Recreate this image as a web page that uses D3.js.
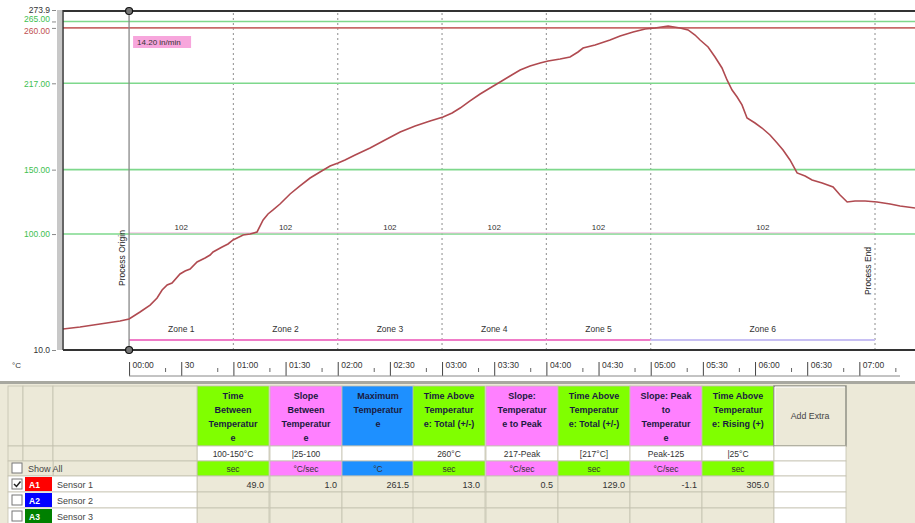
<!DOCTYPE html>
<html><head><meta charset="utf-8">
<script src="https://cdn.jsdelivr.net/npm/d3@7"></script>
<style>
body{margin:0;background:#fff;}
svg{display:block;font-family:"Liberation Sans",Arial,sans-serif;}
</style>
</head><body>
<svg id="c" width="915" height="523"></svg>
<script>
// ---------- DATA ----------
const timeSec = [-38,-28.2,-16.7,-5.2,0,6.3,12.1,16.1,19,21.9,24.7,29.3,32.2,35.1,39.1,43.7,46.6,48.3,53.5,56.9,59.8,65.6,69.6,73.6,77.1,79.9,82.8,86.8,92.6,98.3,104.1,109.8,115.6,120.2,124.2,130,138.6,147.2,155.9,164.5,173.1,180.6,185.8,190.4,196.1,201.9,207.6,213.4,219.1,224.9,230.6,236.4,241,247.9,253.6,258.2,261.1,268,276.6,282.4,289.9,296.8,302.5,310,316.9,321.5,325.5,328.4,333,337,341,343.9,346.8,349.7,352.5,355.4,360,364,368.6,372.7,376.1,380.1,384.2,388.8,392.8,398.6,404.9,408.9,413,417.5,423.3,430.2,437.7,443.4,452];
const tempC = [26.3,27.9,30.2,32.5,34.1,39.5,44.9,50.4,56.6,60.5,62,69,71.3,72.9,78.3,81.4,83.7,86.1,89.9,92.3,95.4,99.3,100,101.6,110.9,115.6,118.7,123.3,131.1,137.3,143.5,148.2,152.8,155.2,157.5,161.4,166.8,173,179.2,183.9,187.7,190.9,194,197.8,203.3,208.7,213.4,218,222.7,227.3,230.4,232.8,234.3,235.9,237.4,241.3,244.4,246.7,250.6,253.7,256.8,259.2,259.9,261.5,259.9,258.4,254.5,250.6,245.2,237.4,228.9,219.6,211.8,206.4,200.2,190.1,186.2,182.3,176.9,170.7,165.2,157.5,147.4,145.1,142,139.6,136.5,130.3,124.9,125.7,125.7,124.9,123.3,121.8,120.2];

const zoneStarts = [0,60,120,180,240,300];
const zoneEnds   = [60,120,180,240,300,429];
const zoneNames  = ["Zone 1","Zone 2","Zone 3","Zone 4","Zone 5","Zone 6"];
const zoneSpeeds = ["102","102","102","102","102","102"];
const processOrigin = 0, processEnd = 429;
const conveyorSpeed = "14.20 in/min";

const yTickValues = [10,100,150,217,260,265,273.9];
const yTickLabels = ["10.0","100.00","150.00","217.00","260.00","265.00","273.9"];
const limitLines  = [100,150,217,265];
const peakLine    = 260;

const xTickValues = [0,30,60,90,120,150,180,210,240,270,300,330,360,390,420];
const xTickLabels = ["00:00","30","01:00","01:30","02:00","02:30","03:00","03:30","04:00","04:30","05:00","05:30","06:00","06:30","07:00"];

const colHeaders = [
  ["Time","Between","Temperatur","e"],
  ["Slope","Between","Temperatur","e"],
  ["Maximum","Temperatur","e"],
  ["Time Above","Temperatur","e: Total (+/-)"],
  ["Slope:","Temperatur","e to Peak"],
  ["Time Above","Temperatur","e: Total (+/-)"],
  ["Slope: Peak","to","Temperatur","e"],
  ["Time Above","Temperatur","e: Rising (+)"]
];
const colKinds  = ["time","slope","max","time","slope","time","slope","time"];
const colParams = ["100-150\u00B0C","|25-100","","260\u00B0C","217-Peak","[217\u00B0C]","Peak-125","|25\u00B0C"];
const colUnits  = ["sec","\u00B0C/sec","\u00B0C","sec","\u00B0C/sec","sec","\u00B0C/sec","sec"];
const sensorNames  = ["Sensor 1","Sensor 2","Sensor 3"];
const sensorTags   = ["A1","A2","A3"];
const sensorValues = [[49.0,1.0,261.5,13.0,0.5,129.0,-1.1,305.0],[],[]];

// ---------- LAYOUT ----------
const svg = d3.select("#c");
const L = 63, R = 915, T = 10, B = 350;
const x = d3.scaleLinear().domain([-38,452]).range([L,R]);
const y = d3.scaleLinear().domain([10,273.9]).range([B,T]);
const kindColor = {time:"#80ff00", slope:"#ff80ff", max:"#1e90ff"};
const sensorColor = ["#ff0000","#0000ff","#008000"];

svg.append("rect").attr("width",915).attr("height",523).attr("fill","#fff");

// zone dotted separators
svg.selectAll(".sep").data(zoneEnds).enter().append("line")
  .attr("x1",d=>x(d)).attr("x2",d=>x(d)).attr("y1",T+3).attr("y2",B)
  .attr("stroke","#a0a0a0").attr("stroke-width",1.2).attr("stroke-dasharray","2,3");

// limit lines
svg.selectAll(".lim").data(limitLines).enter().append("line")
  .attr("x1",L).attr("x2",R).attr("y1",d=>y(d)).attr("y2",d=>y(d))
  .attr("stroke","#7ed88c").attr("stroke-width",1.6);
svg.append("line").attr("x1",x(processOrigin)).attr("x2",x(processEnd))
  .attr("y1",y(100)-1.2).attr("y2",y(100)-1.2).attr("stroke","#f0b0dc").attr("stroke-width",0.8);
svg.append("line").attr("x1",L).attr("x2",R).attr("y1",y(peakLine)).attr("y2",y(peakLine))
  .attr("stroke","#c86a6a").attr("stroke-width",1.6);

// zone bars
svg.selectAll(".zbar").data(zoneStarts).enter().append("line")
  .attr("x1",d=>x(d)).attr("x2",(d,i)=>x(zoneEnds[i])).attr("y1",340).attr("y2",340)
  .attr("stroke",(d,i)=>i<5?"#f07cc8":"#c8c0f4").attr("stroke-width",2);
svg.selectAll(".zname").data(zoneNames).enter().append("text")
  .attr("x",(d,i)=>x((zoneStarts[i]+zoneEnds[i])/2)).attr("y",332)
  .attr("text-anchor","middle").attr("font-size",8.5).attr("fill","#333").text(d=>d);
svg.selectAll(".zspd").data(zoneSpeeds).enter().append("text")
  .attr("x",(d,i)=>x((zoneStarts[i]+zoneEnds[i])/2)).attr("y",230)
  .attr("text-anchor","middle").attr("font-size",8).attr("fill","#333").text(d=>d);

// process origin line
svg.append("line").attr("x1",x(processOrigin)).attr("x2",x(processOrigin)).attr("y1",T+1).attr("y2",B)
  .attr("stroke","#888").attr("stroke-width",1.3);
svg.append("text").attr("transform",`translate(${x(processOrigin)-4},258) rotate(-90)`)
  .attr("text-anchor","middle").attr("font-size",8.5).attr("fill","#222").text("Process Origin");
svg.append("text").attr("transform",`translate(${x(processEnd)-4},271) rotate(-90)`)
  .attr("text-anchor","middle").attr("font-size",8.5).attr("fill","#222").text("Process End");

// curve
const line = d3.line().x(d=>x(d[0])).y(d=>y(d[1]));
svg.append("path").datum(timeSec.map((t,i)=>[t,tempC[i]]))
  .attr("d",line).attr("fill","none").attr("stroke","#b04a50").attr("stroke-width",1.6);

// speed tag
const tagX = x(processOrigin)+4;
svg.append("rect").attr("x",tagX).attr("y",36).attr("width",58).attr("height",12).attr("fill","#f7a6dc");
svg.append("text").attr("x",tagX+4).attr("y",45).attr("font-size",8).attr("fill","#333").text(conveyorSpeed);

// frame
svg.append("rect").attr("x",57).attr("y",T).attr("width",5).attr("height",B-T).attr("fill","#c8c8c8");
svg.append("line").attr("x1",L).attr("x2",L).attr("y1",T).attr("y2",B).attr("stroke","#333").attr("stroke-width",1.5);
svg.append("line").attr("x1",L).attr("x2",R).attr("y1",T+1).attr("y2",T+1).attr("stroke","#333").attr("stroke-width",2);
svg.append("line").attr("x1",L).attr("x2",R).attr("y1",B).attr("y2",B).attr("stroke","#333").attr("stroke-width",1.8);

// handles
[T+1,B].forEach(yy=>{
  svg.append("circle").attr("cx",x(processOrigin)).attr("cy",yy).attr("r",3.5)
    .attr("fill","#777").attr("stroke","#111").attr("stroke-width",1.2);
});

// y axis
const yAxis = d3.axisLeft(y).tickValues(yTickValues).tickSize(4).tickPadding(2)
  .tickFormat((d,i)=>yTickLabels[i]);
const gy = svg.append("g").attr("transform","translate(56,0)").call(yAxis);
gy.select(".domain").remove();
gy.selectAll(".tick line").attr("stroke","#888");
gy.selectAll(".tick text").attr("font-size",8.5)
  .attr("font-family","Liberation Sans, Arial, sans-serif")
  .attr("dy",d=>d===265?"-0.05em":d===260?"0.62em":"0.32em")
  .attr("fill",d=>d===260?"#c05050":(d===10||d===273.9)?"#333":"#40c050");
svg.append("text").attr("x",12).attr("y",368).attr("font-size",8).attr("fill","#333").text("\u00B0C");

// x axis labels
const xAxis = d3.axisBottom(x).tickValues(xTickValues).tickSize(0).tickPadding(0)
  .tickFormat((d,i)=>xTickLabels[i]);
const gx = svg.append("g").attr("transform","translate(0,360)").call(xAxis);
gx.select(".domain").remove();
gx.selectAll(".tick text").attr("text-anchor","start").attr("x",3).attr("dy","0.9em")
  .attr("font-size",8.5).attr("fill","#333").attr("font-family","Liberation Sans, Arial, sans-serif");
gx.selectAll(".tick").append("line").attr("x1",0).attr("x2",0).attr("y1",2).attr("y2",16).attr("stroke","#444");
gx.selectAll(".tick").append("line").attr("x1",36).attr("x2",36).attr("y1",8).attr("y2",12).attr("stroke","#666");
svg.append("line").attr("x1",x(0)).attr("x2",900).attr("y1",376).attr("y2",376).attr("stroke","#888");

// ---------- TABLE ----------
const tTop = 383;
svg.append("rect").attr("x",0).attr("y",tTop).attr("width",915).attr("height",523-tTop).attr("fill","#ece9d8");
svg.append("rect").attr("x",0).attr("y",tTop-2).attr("width",915).attr("height",3).attr("fill","#a8a8a0");

const colX = [197,270,342,413,486,558,630,702,774];
const colW = 72;
const rowY = {head:386, param:446, unit:461, s:[476,492,508]};
const rowH = {head:60, param:15, unit:15, s:16};

const gridC = "#c4c0b0";
const cols = svg.append("g");
colHeaders.forEach((lines,i)=>{
  const cx = colX[i];
  cols.append("rect").attr("x",cx).attr("y",rowY.head).attr("width",colW).attr("height",rowH.head)
    .attr("fill",kindColor[colKinds[i]]).attr("stroke",gridC).attr("stroke-width",0.8);
  const tx = cols.append("text").attr("x",cx+colW/2).attr("text-anchor","middle")
    .attr("font-size",9).attr("font-weight","bold").attr("fill","#1a1a40");
  lines.forEach((ln,j)=>tx.append("tspan").attr("x",cx+colW/2).attr("y",rowY.head+13+j*14).text(ln));
  cols.append("rect").attr("x",cx).attr("y",rowY.param).attr("width",colW).attr("height",rowH.param)
    .attr("fill","#fff").attr("stroke",gridC).attr("stroke-width",0.8);
  cols.append("text").attr("x",cx+colW/2).attr("y",rowY.param+11).attr("text-anchor","middle")
    .attr("font-size",8.5).attr("fill","#333").text(colParams[i]);
  cols.append("rect").attr("x",cx).attr("y",rowY.unit).attr("width",colW).attr("height",rowH.unit)
    .attr("fill",kindColor[colKinds[i]]).attr("stroke",gridC).attr("stroke-width",0.8);
  cols.append("text").attr("x",cx+colW/2).attr("y",rowY.unit+11).attr("text-anchor","middle")
    .attr("font-size",8.5).attr("fill","#333").text(colUnits[i]);
  rowY.s.forEach((ry,k)=>{
    cols.append("rect").attr("x",cx).attr("y",ry).attr("width",colW).attr("height",rowH.s)
      .attr("fill","#ece9d8").attr("stroke",gridC).attr("stroke-width",0.8);
    const v = sensorValues[k][i];
    if(v!==undefined) cols.append("text").attr("x",cx+colW-5).attr("y",ry+12).attr("text-anchor","end")
      .attr("font-size",9).attr("fill","#333").text(v.toFixed(1));
  });
});
// Add Extra button
const ax = colX[8];
svg.append("rect").attr("x",ax).attr("y",rowY.head).attr("width",colW).attr("height",rowH.head)
  .attr("fill","#ece9d8").attr("stroke","#8a8a80").attr("stroke-width",1.4);
svg.append("line").attr("x1",ax+1).attr("x2",ax+colW-1).attr("y1",rowY.head+1).attr("y2",rowY.head+1).attr("stroke","#fff");
svg.append("line").attr("x1",ax+1).attr("x2",ax+1).attr("y1",rowY.head+1).attr("y2",rowY.head+rowH.head-1).attr("stroke","#fff");
svg.append("text").attr("x",ax+colW/2).attr("y",rowY.head+33).attr("text-anchor","middle")
  .attr("font-size",8.8).attr("fill","#444").text("Add Extra");
[rowY.param,rowY.unit].concat(rowY.s).forEach((ry,k)=>{
  svg.append("rect").attr("x",ax).attr("y",ry).attr("width",colW).attr("height",k<2?15:16)
    .attr("fill","#fff").attr("stroke",gridC).attr("stroke-width",0.8);
});

// left columns
const leftX = [8,23,53,197];
[rowY.head,rowY.param,rowY.unit].forEach((ry,k)=>{
  const h = [rowH.head,rowH.param,rowH.unit][k];
  for(let c=0;c<3;c++){
    if(k===2 && c<2) continue;
    svg.append("rect").attr("x",leftX[c]).attr("y",ry).attr("width",leftX[c+1]-leftX[c]).attr("height",h)
      .attr("fill","#ece9d8").attr("stroke",gridC).attr("stroke-width",0.8);
  }
});
svg.append("rect").attr("x",8).attr("y",rowY.unit).attr("width",45).attr("height",rowH.unit)
  .attr("fill","#ece9d8").attr("stroke",gridC).attr("stroke-width",0.8);
svg.append("rect").attr("x",12).attr("y",rowY.unit+2).attr("width",10).attr("height",10)
  .attr("fill","#fff").attr("stroke","#777");
svg.append("text").attr("x",28).attr("y",rowY.unit+11).attr("font-size",9).attr("fill","#444").text("Show All");

sensorNames.forEach((nm,k)=>{
  const ry = rowY.s[k];
  svg.append("rect").attr("x",8).attr("y",ry).attr("width",189).attr("height",rowH.s)
    .attr("fill","#fff").attr("stroke",gridC).attr("stroke-width",0.8);
  svg.append("rect").attr("x",12).attr("y",ry+3).attr("width",10).attr("height",10)
    .attr("fill","#fff").attr("stroke","#777");
  if(k===0) svg.append("path").attr("d",`M14,${ry+8} l2.5,2.5 l4,-5`).attr("fill","none").attr("stroke","#222").attr("stroke-width",1.5);
  svg.append("rect").attr("x",25).attr("y",ry+1).attr("width",27).attr("height",rowH.s-2).attr("fill",sensorColor[k]);
  svg.append("text").attr("x",29).attr("y",ry+12).attr("font-size",8.5).attr("font-weight","bold")
    .attr("fill","#fff").text(sensorTags[k]);
  svg.append("text").attr("x",57).attr("y",ry+12).attr("font-size",9).attr("fill","#444").text(nm);
});
</script>
</body></html>
